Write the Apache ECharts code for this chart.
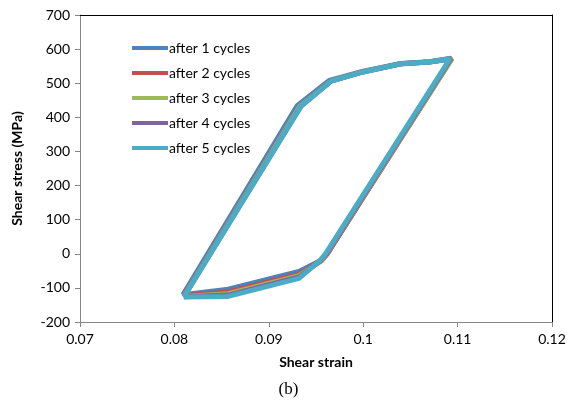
<!DOCTYPE html>
<html>
<head>
<meta charset="utf-8">
<script src="https://cdn.jsdelivr.net/npm/echarts@6/dist/echarts.min.js"></script>
<style>html,body{margin:0;padding:0;background:#fff;}#c{width:577px;height:401px;}</style>
</head>
<body>
<div id="c"></div>
<script>
var seriesNames = ['after 1 cycles','after 2 cycles','after 3 cycles','after 4 cycles','after 5 cycles'];
var seriesColors = ['#4F81BD','#C0504D','#9BBB59','#8064A2','#4BACC6'];
var xTicks = [0.07,0.08,0.09,0.1,0.11,0.12];
var yTicks = [-200,-100,0,100,200,300,400,500,600,700];

var cycle1 = [[0.0809,-120],[0.0930,434],[0.0964,508],[0.1000,535],[0.1040,558],[0.1070,563],[0.1093,573],[0.0962,0],[0.0956,-18],[0.0932,-52],[0.0857,-104],[0.0809,-120]];
var cycle2 = [[0.0810,-123],[0.0933,433],[0.0966,507],[0.1000,534],[0.1040,557],[0.1070,562],[0.1094,572],[0.0962,0],[0.0956,-20],[0.0932,-60],[0.0857,-112],[0.0810,-123]];
var cycle3 = [[0.0810,-125],[0.0933,433],[0.0966,507],[0.1000,534],[0.1040,557],[0.1070,562],[0.1094,572],[0.0961,0],[0.0956,-20],[0.0932,-64],[0.0857,-117],[0.0810,-125]];
var cycle4 = [[0.0810,-126],[0.0934,432],[0.0966,506],[0.1000,533],[0.1040,557],[0.1070,562],[0.1093,572],[0.0961,0],[0.0955,-20],[0.0932,-68],[0.0857,-121],[0.0810,-126]];
var cycle5 = [[0.0810,-127],[0.0934,432],[0.0966,506],[0.1000,533],[0.1040,557],[0.1070,562],[0.1092,572],[0.0960,0],[0.0954,-20],[0.0932,-72],[0.0857,-125],[0.0810,-127]];
var cycles = [cycle1,cycle2,cycle3,cycle4,cycle5];

var font = 'Lato';
var chart = echarts.init(document.getElementById('c'), null, {renderer:'canvas'});
var series = cycles.map(function(d,i){
  return {
    name: seriesNames[i], type:'line', data:d, symbol:'none', smooth:false,
    lineStyle:{width:5, color:seriesColors[i]}, itemStyle:{color:seriesColors[i]},
    z: 2+i, animation:false
  };
});
chart.setOption({
  animation:false,
  backgroundColor:'#fff',
  title:{text:'(b)', left:'center', top:376, textStyle:{fontFamily:'Liberation Serif', fontSize:17, fontWeight:'normal', color:'#000'}},
  grid:{left:80, right:25, top:15, bottom:79},
  legend:{
    orient:'vertical', left:127, top:36, itemWidth:36, itemHeight:4, itemGap:11, icon:'rect',
    data:seriesNames,
    textStyle:{fontFamily:font, fontSize:14, color:'#000', lineHeight:14, padding:[0,0,0,-4]}
  },
  xAxis:[{
    type:'value', min:xTicks[0], max:xTicks[xTicks.length-1], interval:0.01,
    name:'Shear strain', nameLocation:'middle', nameGap:33,
    nameTextStyle:{fontFamily:font, fontSize:14, fontWeight:'bold', color:'#000'},
    axisLine:{onZero:false, lineStyle:{color:'#868686', width:1}},
    axisTick:{show:true, length:5, lineStyle:{color:'#868686'}},
    axisLabel:{fontFamily:font, fontSize:14, color:'#000', margin:10},
    splitLine:{show:false}
  },{
    type:'value', position:'top', min:xTicks[0], max:xTicks[xTicks.length-1], interval:0.01,
    axisLine:{show:true, onZero:false, lineStyle:{color:'#000', width:1}},
    axisTick:{show:false}, axisLabel:{show:false}, splitLine:{show:false}
  }],
  yAxis:[{
    type:'value', min:yTicks[0], max:yTicks[yTicks.length-1], interval:100,
    name:'Shear stress (MPa)', nameLocation:'middle', nameGap:56,
    nameTextStyle:{fontFamily:font, fontSize:14, fontWeight:'bold', color:'#000'},
    axisLine:{show:true, onZero:false, lineStyle:{color:'#868686', width:1}},
    axisTick:{show:true, length:5, lineStyle:{color:'#868686'}},
    axisLabel:{fontFamily:font, fontSize:14, color:'#000', margin:10},
    splitLine:{show:false}
  },{
    type:'value', position:'right', min:yTicks[0], max:yTicks[yTicks.length-1], interval:100,
    axisLine:{show:true, onZero:false, lineStyle:{color:'#000', width:1}},
    axisTick:{show:false}, axisLabel:{show:false}, splitLine:{show:false}
  }],
  series:series
});
</script>
</body>
</html>
